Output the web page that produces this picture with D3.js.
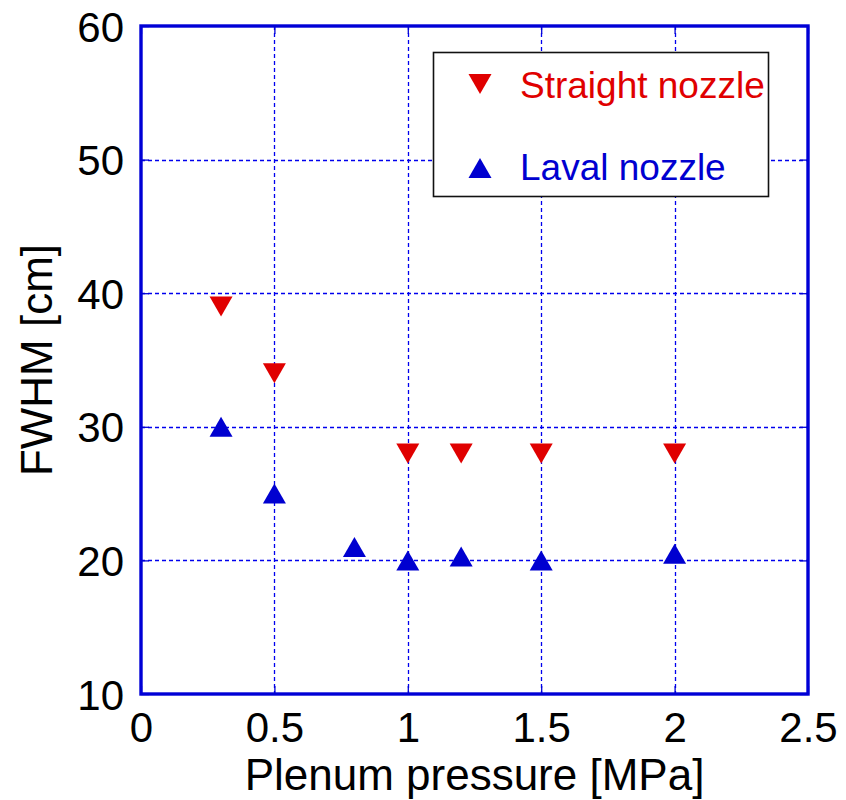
<!DOCTYPE html>
<html>
<head>
<meta charset="utf-8">
<script src="https://cdn.jsdelivr.net/npm/d3@7/dist/d3.min.js"></script>
<style>
  html, body { margin: 0; padding: 0; background: #fff; }
  svg { display: block; font-family: "Liberation Sans", Arial, sans-serif; }
</style>
</head>
<body>
<div id="chart"></div>
<script>
// ---- Data ----
const straightX = [0.3, 0.5, 1.0, 1.2, 1.5, 2.0];
const straightY = [39, 34, 28, 28, 28, 28];
const lavalX = [0.3, 0.5, 0.8, 1.0, 1.2, 1.5, 2.0];
const lavalY = [30, 25, 21, 20, 20.3, 20, 20.5];
const xTicks = [0, 0.5, 1, 1.5, 2, 2.5];
const yTicks = [10, 20, 30, 40, 50, 60];
const seriesNames = ["Straight nozzle", "Laval nozzle"];
const xLabel = "Plenum pressure [MPa]";
const yLabel = "FWHM [cm]";

(function () {
const W = 846, H = 800;
const pL = 141, pR = 808, pT = 26, pB = 694;
const axisColor = "#0000d6";
const gridColor = "#0000ee";
const red = "#e00000";
const blue = "#0000d0";

const svg = d3.select("#chart").append("svg").attr("width", W).attr("height", H);

const x = d3.scaleLinear().domain([0, 2.5]).range([pL, pR]);
const y = d3.scaleLinear().domain([10, 60]).range([pB, pT]);

// Grid
const grid = svg.append("g");
grid.selectAll("line.gx").data(xTicks.filter(t => t > 0 && t < 2.5)).enter().append("line")
  .attr("x1", d => Math.round(x(d)) + 0.5).attr("x2", d => Math.round(x(d)) + 0.5)
  .attr("y1", pT).attr("y2", pB)
  .attr("stroke", gridColor).attr("stroke-width", 1.3).attr("stroke-dasharray", "4,3");
grid.selectAll("line.gy").data(yTicks.filter(t => t > 10 && t < 60)).enter().append("line")
  .attr("y1", d => Math.round(y(d)) + 0.5).attr("y2", d => Math.round(y(d)) + 0.5)
  .attr("x1", pL).attr("x2", pR)
  .attr("stroke", gridColor).attr("stroke-width", 1.3).attr("stroke-dasharray", "4,3");

// Axes with D3 (ticks inward, labels)
const xAxis = d3.axisBottom(x).tickValues(xTicks).tickSize(-8).tickPadding(18)
  .tickFormat(d => d3.format("")(d));
const xAxisTop = d3.axisTop(x).tickValues(xTicks).tickSize(-8).tickFormat("");
const yAxis = d3.axisLeft(y).tickValues(yTicks).tickSize(-8).tickPadding(17);
const yAxisRight = d3.axisRight(y).tickValues(yTicks).tickSize(-8).tickFormat("");

function styleAxis(g) {
  g.select(".domain").remove();
  g.selectAll(".tick line").attr("stroke", axisColor).attr("stroke-width", 1.3);
  g.selectAll(".tick text").attr("fill", "#000").attr("font-size", 42)
    .attr("font-family", "'Liberation Sans', Arial, sans-serif");
}
svg.append("g").attr("transform", `translate(0,${pB})`).call(xAxis).call(styleAxis)
  .selectAll(".tick text").attr("dy", "0.71em");
svg.append("g").attr("transform", `translate(0,${pT})`).call(xAxisTop).call(styleAxis);
svg.append("g").attr("transform", `translate(${pL},0)`).call(yAxis).call(styleAxis)
  .selectAll(".tick text").attr("dy", "0.36em");
svg.append("g").attr("transform", `translate(${pR},0)`).call(yAxisRight).call(styleAxis);

// Frame
svg.append("rect").attr("x", pL).attr("y", pT).attr("width", pR - pL).attr("height", pB - pT)
  .attr("fill", "none").attr("stroke", axisColor).attr("stroke-width", 3.4);

// Markers
function triPath(cx, cy, up) {
  const w = 23, h = 20;
  if (up) return `M${cx},${cy - h/2} L${cx + w/2},${cy + h/2} L${cx - w/2},${cy + h/2} Z`;
  return `M${cx},${cy + h/2} L${cx + w/2},${cy - h/2} L${cx - w/2},${cy - h/2} Z`;
}
svg.append("g").selectAll("path").data(d3.zip(straightX, straightY)).enter().append("path")
  .attr("d", d => triPath(x(d[0]), y(d[1]), false)).attr("fill", red);
svg.append("g").selectAll("path").data(d3.zip(lavalX, lavalY)).enter().append("path")
  .attr("d", d => triPath(x(d[0]), y(d[1]), true)).attr("fill", blue);

// Legend
const lg = svg.append("g");
lg.append("rect").attr("x", 433.5).attr("y", 52.5).attr("width", 335).attr("height", 144)
  .attr("fill", "#fff").attr("stroke", "#111").attr("stroke-width", 1.6);
lg.append("path").attr("d", triPath(480, 84, false)).attr("fill", red);
lg.append("path").attr("d", triPath(480, 168, true)).attr("fill", blue);
lg.append("text").attr("x", 520).attr("y", 98).attr("font-size", 37).attr("fill", red).text(seriesNames[0]);
lg.append("text").attr("x", 520).attr("y", 180).attr("font-size", 37).attr("fill", blue).text(seriesNames[1]);

// Axis labels
svg.append("text").attr("x", (pL + pR) / 2).attr("y", 790).attr("text-anchor", "middle")
  .attr("font-size", 44).attr("fill", "#000").text(xLabel);
svg.append("text").attr("transform", `translate(52,${(pT + pB) / 2}) rotate(-90)`)
  .attr("text-anchor", "middle").attr("font-size", 44).attr("fill", "#000").text(yLabel);
})();
</script>
</body>
</html>
